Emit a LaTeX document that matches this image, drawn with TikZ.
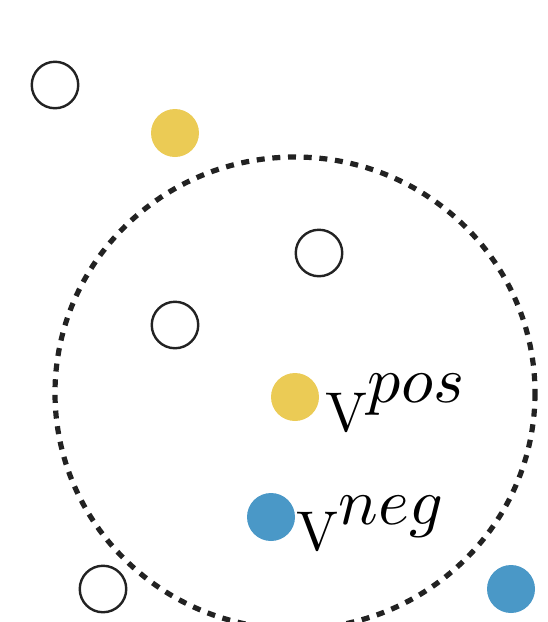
\documentclass[tikz,border=0pt]{standalone}
\definecolor{yel}{HTML}{EBCB55}
\definecolor{blu}{HTML}{4A98C7}
\definecolor{ink}{HTML}{222222}
\tikzset{
  dotnode/.style={circle, minimum size=48pt, inner sep=0pt},
  hollow/.style={circle, minimum size=46.5pt, inner sep=0pt, draw=ink, line width=2.4pt, fill=white},
  yelnode/.style={dotnode, fill=yel},
  blunode/.style={dotnode, fill=blu},
  region/.style={draw=ink, line width=5.2pt, dash pattern=on 8pt off 7.7pt},
  lab/.style={anchor=base west, inner sep=0pt, scale=5.6, text=black}
}
\begin{document}
\begin{tikzpicture}[x=1pt,y=-1pt]
\useasboundingbox (0,0) rectangle (548,622);
\clip (0,0) rectangle (548,622);
\draw[region] (295,393) ellipse [x radius=240, y radius=236];
\node[hollow] (w1) at (55,85) {};
\node[yelnode] (y1) at (175,133) {};
\node[hollow] (w2) at (319,253) {};
\node[hollow] (w3) at (175,325) {};
\node[yelnode] (y2) at (295,397) {};
\node[blunode] (b1) at (271,517) {};
\node[hollow] (w4) at (103,589) {};
\node[blunode] (b2) at (511,589) {};
\node[lab] (lpos) at (324,431) {$\mathrm{V}$\raisebox{5.1pt}{\scalebox{1.18}{$pos$}}};
\node[lab] (lneg) at (295,550) {$\mathrm{V}$\raisebox{4.6pt}{\scalebox{1.18}{$neg$}}};
\end{tikzpicture}
\end{document}
